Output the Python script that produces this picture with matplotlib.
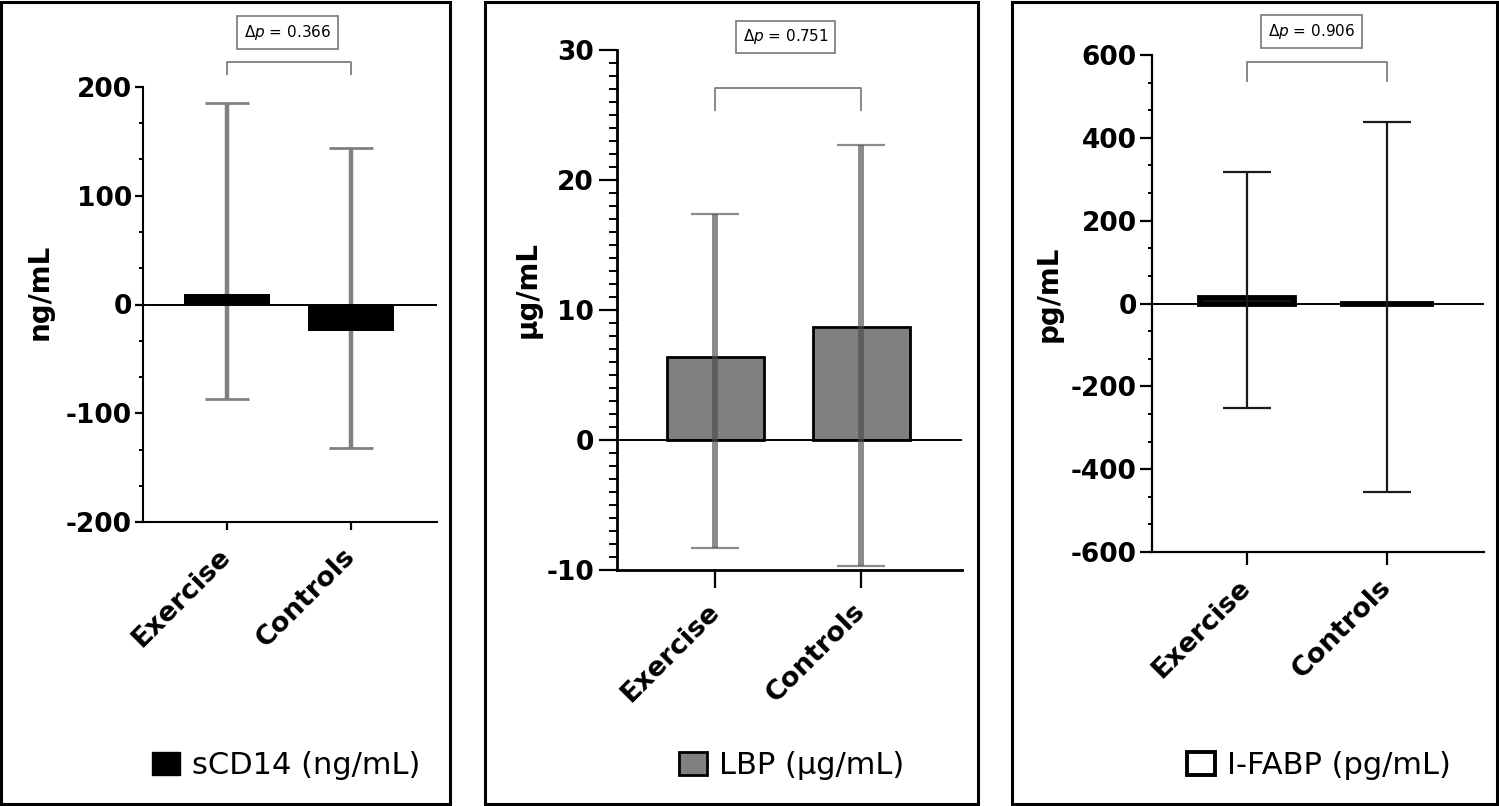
import matplotlib.pyplot as plt
from matplotlib.patches import Patch, Rectangle
from matplotlib.ticker import MultipleLocator
import numpy as np

# Data (change from baseline, mean with range)
groups = ['Exercise', 'Controls']

scd14_mean = [10, -24]
scd14_low = [-87, -132]
scd14_high = [185, 144]
scd14_p = 0.366

lbp_mean = [6.4, 8.7]
lbp_low = [-8.3, -9.7]
lbp_high = [17.4, 22.7]
lbp_p = 0.751

ifabp_mean = [13, -2]
ifabp_low = [-252, -456]
ifabp_high = [317, 439]
ifabp_p = 0.906

W, H = 1499, 806
plt.rcParams['font.family'] = 'DejaVu Sans'
plt.rcParams['axes.unicode_minus'] = False

fig = plt.figure(figsize=(W / 100, H / 100), dpi=100)


# helper: axes from pixel box (left, top, right, bottom)
def px_axes(l, t, r, b):
    return fig.add_axes([l / W, 1 - b / H, (r - l) / W, (b - t) / H])


def style_axes(ax, ylim, major, minor, ylabel, label_xy, ticklen, minorlen, pad, xpad, spine_lw):
    ax.set_ylim(*ylim)
    ax.set_xlim(-0.675, 1.69)
    ax.yaxis.set_major_locator(MultipleLocator(major))
    ax.yaxis.set_minor_locator(MultipleLocator(minor))
    for side in ['top', 'right']:
        ax.spines[side].set_visible(False)
    for side in ['left', 'bottom']:
        ax.spines[side].set_linewidth(spine_lw)
    ax.tick_params(axis='y', which='major', length=ticklen, width=1.6, pad=pad, labelsize=19)
    ax.tick_params(axis='y', which='minor', length=minorlen, width=1.4)
    ax.tick_params(axis='x', length=ticklen, width=1.6, pad=xpad)
    for lab in ax.get_yticklabels():
        lab.set_fontweight('bold')
    ax.set_xticks([0, 1])
    ax.set_xticklabels(groups, rotation=45, ha='right', va='center', rotation_mode='anchor',
                       fontsize=19.5, fontweight='bold')
    ax.axhline(0, color='black', lw=1.4, zorder=3)
    ax.set_ylabel(ylabel, fontsize=20, fontweight='bold', va='center')
    ax.yaxis.set_label_coords(*label_xy)
    ax.patch.set_alpha(0)


def p_bracket(ax, y_low, y_high, y_box, x_box, pval):
    ax.plot([0, 0, 1, 1], [y_low, y_high, y_high, y_low], color='#888888', lw=1.4,
            clip_on=False, zorder=5)
    ax.text(x_box, y_box, r'$\Delta p$ = ' + f'{pval:.3f}', fontsize=11, ha='center', va='center',
            bbox=dict(boxstyle='square,pad=0.45', fc='white', ec='#777777', lw=1.2))


def panel_legend(x_px, color, edge, lw, label):
    fig.legend(handles=[Patch(facecolor=color, edgecolor=edge, linewidth=lw)], labels=[label],
               loc='center left', bbox_to_anchor=(x_px / W, 1 - 766 / H), frameon=False,
               borderpad=0, borderaxespad=0, handlelength=0.9, handleheight=0.78,
               handletextpad=0.42, fontsize=22)


x = np.arange(len(groups))

# Panel 1: sCD14
ax1 = px_axes(143, 87, 437, 522)
ax1.bar(x, scd14_mean, width=0.69, color='black', zorder=4)
err1 = [np.array(scd14_mean) - np.array(scd14_low), np.array(scd14_high) - np.array(scd14_mean)]
ax1.errorbar(x, scd14_mean, yerr=err1, fmt='none', ecolor='#808080', elinewidth=3.2,
             capsize=16, capthick=2, zorder=2)
style_axes(ax1, (-200, 200), 100, 100 / 3, 'ng/mL', (-0.35, 0.53), 6, 3, 2, 16, 1.5)
p_bracket(ax1, 212, 223, 250, 0.49, scd14_p)
panel_legend(152, 'black', 'black', 1, 'sCD14 (ng/mL)')

# Panel 2: LBP
ax2 = px_axes(617, 50, 962, 570)
ax2.bar(x, lbp_mean, width=0.667, color='#808080', edgecolor='black', linewidth=2, zorder=2)
err2 = [np.array(lbp_mean) - np.array(lbp_low), np.array(lbp_high) - np.array(lbp_mean)]
_, caps2, bars2 = ax2.errorbar(x, lbp_mean, yerr=err2, fmt='none', ecolor=(0.3, 0.3, 0.3, 0.65),
                               elinewidth=4.3, capsize=17.5, capthick=1.6, zorder=5)
for cap in caps2:
    cap.set_color('#444444')
style_axes(ax2, (-10, 30), 10, 1, 'µg/mL', (-0.26, 0.54), 13, 6, 3.5, 14, 2)
p_bracket(ax2, 25.4, 27.1, 31.0, 0.48, lbp_p)
panel_legend(679, '#808080', 'black', 2, 'LBP (µg/mL)')

# Panel 3: I-FABP
ax3 = px_axes(1152, 55, 1484, 552)
ax3.bar(x, ifabp_mean, width=0.67, color='white', edgecolor='black', linewidth=4.2, zorder=2)
err3 = [np.array(ifabp_mean) - np.array(ifabp_low), np.array(ifabp_high) - np.array(ifabp_mean)]
ax3.errorbar(x, ifabp_mean, yerr=err3, fmt='none', ecolor='#1a1a1a', elinewidth=1.6,
             capsize=17, capthick=1.6, zorder=5)
style_axes(ax3, (-600, 600), 200, 200 / 3, 'pg/mL', (-0.31, 0.52), 9, 3, 2, 14, 1.6)
p_bracket(ax3, 538, 582, 657, 0.46, ifabp_p)
panel_legend(1187, 'white', 'black', 2.8, 'I-FABP (pg/mL)')

# Panel frames
for l, r in [(1, 450), (485, 978), (1012, 1497)]:
    fig.patches.append(Rectangle((l / W, 2 / H), (r - l) / W, (H - 4) / H, fill=False,
                                 edgecolor='black', lw=2.2, transform=fig.transFigure))

plt.savefig('out.png', dpi=100)
